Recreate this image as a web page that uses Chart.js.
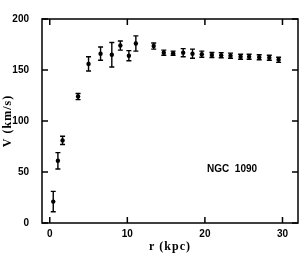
<html><head><meta charset="utf-8">
<script src="https://cdn.jsdelivr.net/npm/chart.js@4.4.0/dist/chart.umd.min.js"></script>
<style>body{margin:0;background:#fff}</style>
</head>
<body>
<canvas id="myChart" width="305" height="254"></canvas>
<script>
// rotation curve of NGC 1090
var radius = [0.45, 1.05, 1.65, 3.65, 5.0, 6.55, 8.0, 9.1, 10.2, 11.1, 13.4, 14.7, 15.9, 17.2, 18.4, 19.6, 20.9, 22.1, 23.3, 24.6, 25.7, 27.0, 28.3, 29.5];
var velocity = [21, 61, 81, 124, 156, 166, 165, 174, 164, 176, 173.5, 167, 166.5, 167, 166, 165.5, 164.7, 164.5, 164, 163, 163, 162.5, 162, 160];
var velErr = [10, 8, 4, 3, 7, 6.5, 12, 4.5, 5, 7.5, 3, 2.5, 2, 4, 4.5, 3, 2.5, 2.5, 2.5, 2.5, 2.5, 2.5, 2.5, 2.5];
var xTicks = [0, 10, 20, 30];
var yTicks = [0, 50, 100, 150, 200];

var pts = radius.map(function(r, i){ return {x: r, y: velocity[i]}; });

var frame = {
  id: 'frame',
  beforeDatasetsDraw: function(chart){
    var c = chart.ctx, xs = chart.scales.x, ys = chart.scales.y;
    c.save();
    c.strokeStyle = '#000'; c.lineWidth = 1.4;
    for (var i = 0; i < radius.length; i++) {
      var px = xs.getPixelForValue(radius[i]);
      var top = ys.getPixelForValue(velocity[i] + velErr[i]);
      var bot = ys.getPixelForValue(velocity[i] - velErr[i]);
      c.beginPath();
      c.moveTo(px, top); c.lineTo(px, bot);
      c.moveTo(px - 2.5, top); c.lineTo(px + 2.5, top);
      c.moveTo(px - 2.5, bot); c.lineTo(px + 2.5, bot);
      c.stroke();
    }
    c.restore();
  },
  afterDraw: function(chart){
    var c = chart.ctx, a = chart.chartArea, xs = chart.scales.x, ys = chart.scales.y;
    c.save();
    c.strokeStyle = '#000'; c.lineWidth = 1.5;
    c.strokeRect(a.left, a.top, a.right - a.left, a.bottom - a.top);
    c.beginPath();
    xTicks.forEach(function(v){
      var p = xs.getPixelForValue(v);
      c.moveTo(p, a.bottom); c.lineTo(p, a.bottom - 6);
      c.moveTo(p, a.top); c.lineTo(p, a.top + 6);
    });
    yTicks.forEach(function(v){
      var p = ys.getPixelForValue(v);
      c.moveTo(a.left, p); c.lineTo(a.left + 6, p);
      c.moveTo(a.right, p); c.lineTo(a.right - 6, p);
    });
    c.stroke();
    c.fillStyle = '#000';
    c.textAlign = 'center'; c.textBaseline = 'middle';
    c.font = 'bold 12px "Liberation Serif"';
    c.letterSpacing = '1px';
    c.fillText('r (kpc)', (a.left + a.right) / 2, 247);
    c.translate(8, (a.top + a.bottom) / 2);
    c.rotate(-Math.PI / 2);
    c.fillText('V (km/s)', 0, 0);
    c.restore();
    c.save();
    c.fillStyle = '#000';
    c.font = 'bold 10px "Liberation Sans"';
    c.textAlign = 'center'; c.textBaseline = 'middle';
    c.fillText('NGC  1090', xs.getPixelForValue(23.5), ys.getPixelForValue(53));
    c.restore();
  }
};

var ctx = document.getElementById('myChart');
var myChart = new Chart(ctx, {
  type: 'scatter',
  data: {
    datasets: [{
      data: pts,
      backgroundColor: '#000',
      borderColor: '#000',
      pointRadius: 2.2,
      pointHoverRadius: 2.2,
      borderWidth: 0
    }]
  },
  options: {
    responsive: false,
    animation: false,
    layout: { padding: { left: 0, top: 5, right: 7, bottom: 0 } },
    plugins: { legend: { display: false }, tooltip: { enabled: false } },
    scales: {
      x: {
        type: 'linear', min: -1, max: 32,
        afterBuildTicks: function(s){ s.ticks = xTicks.map(function(v){ return {value: v}; }); },
        afterFit: function(s){ s.height = 31; },
        grid: { display: false, drawTicks: false },
        border: { display: false },
        ticks: { color: '#000', padding: 5, maxRotation: 0, font: { family: 'Liberation Sans', size: 10, weight: 'bold' } }
      },
      y: {
        type: 'linear', min: 0, max: 200,
        afterBuildTicks: function(s){ s.ticks = yTicks.map(function(v){ return {value: v}; }); },
        afterFit: function(s){ s.width = 42; },
        grid: { display: false, drawTicks: false },
        border: { display: false },
        ticks: { color: '#000', padding: 13, font: { family: 'Liberation Sans', size: 10, weight: 'bold' } }
      }
    }
  },
  plugins: [frame]
});
</script>
</body></html>
